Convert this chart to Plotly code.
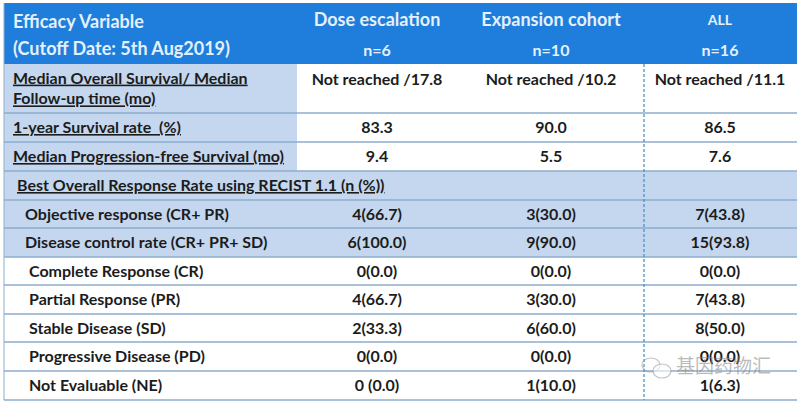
import plotly.graph_objects


# table text, one list per column, top to bottom
row_labels = ["Median Overall Survival/ Median<br>Follow-up time (mo)", "1-year Survival rate  (%)",
	"Median Progression-free Survival (mo)", "Best Overall Response Rate using RECIST 1.1 (n (%))",
	"Objective response (CR+ PR)", "Disease control rate (CR+ PR+ SD)", "Complete Response (CR)",
	"Partial Response (PR)", "Stable Disease (SD)", "Progressive Disease (PD)", "Not Evaluable (NE)"]
dose_values = ["Not reached /17.8", "83.3", "9.4", "", "4(66.7)", "6(100.0)", "0(0.0)", "4(66.7)", "2(33.3)", "0(0.0)", "0 (0.0)"]
expansion_values = ["Not reached /10.2", "90.0", "5.5", "", "3(30.0)", "9(90.0)", "0(0.0)", "3(30.0)", "6(60.0)", "0(0.0)", "1(10.0)"]
all_values = ["Not reached /11.1", "86.5", "7.6", "", "7(43.8)", "15(93.8)", "0(0.0)", "7(43.8)", "8(50.0)", "0(0.0)", "1(6.3)"]
header_labels = ["Dose escalation", "Expansion cohort", "ALL"]
header_counts = ["n=6", "n=10", "n=16"]
watermark = "基因药物汇"

# table geometry, in picture pixels
row_edges = [64, 113, 142, 171, 200, 228, 257, 285, 314, 342, 371, 400]
left, first_col, divider, right = 4, 297, 644, 797
col_centers = [377, 551, 720]
label_x = [13, 13, 13, 17, 25, 25, 29, 29, 29, 29, 29]
underlined = [0, 1, 2, 3]
shaded_full = [3, 4, 5]
# text sits a little low in its cell
text_drop = 1.5

FONT = "Lato"
HEADER_BLUE = "#1f7edb"
LIGHT_BLUE = "#c4d7ef"
LINE_BLUE = "#8dadcc"
DARK = "#1c1c1c"


def rect(x0, x1, y0, y1, color):
	return dict(type="rect", xref="x", yref="y", x0=x0, x1=x1, y0=y0, y1=y1,
			fillcolor=color, line=dict(width=0), layer="below")


def hline(y, color=LINE_BLUE, width=1.5):
	return dict(type="line", xref="x", yref="y", x0=left, x1=right, y0=y, y1=y,
			line=dict(color=color, width=width), layer="below")


shapes = [rect(left, right, 3, row_edges[0], HEADER_BLUE)]
for i in range(len(row_labels)):
	if i in shaded_full:
		shapes.append(rect(left, right, row_edges[i], row_edges[i + 1], LIGHT_BLUE))
	elif i in underlined:
		shapes.append(rect(left, first_col, row_edges[i], row_edges[i + 1], LIGHT_BLUE))
for y in row_edges[1:]:
	shapes.append(hline(y))
shapes.append(dict(type="line", xref="x", yref="y", x0=left, x1=left, y0=3, y1=row_edges[-1],
		line=dict(color=LINE_BLUE, width=1), layer="below"))
shapes.append(dict(type="line", xref="x", yref="y", x0=divider, x1=divider, y0=row_edges[0], y1=row_edges[-1],
		line=dict(color="#3f8fc4", width=1.2, dash="3px,2px"), layer="below"))
# wechat logo of the watermark
shapes.append(dict(type="circle", xref="x", yref="y", x0=642, x1=660, y0=358, y1=372,
		line=dict(color="rgba(150,150,150,0.55)", width=1.2), layer="above"))
shapes.append(dict(type="circle", xref="x", yref="y", x0=653, x1=671, y0=364, y1=378,
		line=dict(color="rgba(150,150,150,0.55)", width=1.2), fillcolor="rgba(255,255,255,0.6)", layer="above"))

fig = plotly.graph_objects.Figure()

# row labels
label_text = []
label_y = []
for i, label in enumerate(row_labels):
	label_text.append("<u>" + label.replace("<br>", "</u><br><u>") + "</u>" if i in underlined else label)
	label_y.append((row_edges[i] + row_edges[i + 1]) / 2 + text_drop)
fig.add_trace(plotly.graph_objects.Scatter(x=label_x, y=label_y, text=label_text, mode="text",
		textposition="middle right", textfont=dict(family=FONT, size=16, color=DARK, weight="bold"),
		hoverinfo="skip", showlegend=False))

# value columns
for center, values in zip(col_centers, [dose_values, expansion_values, all_values]):
	ys = []
	for i in range(len(values)):
		# the first row's values sit on its first text line
		ys.append(row_edges[i] + 15 + text_drop if i == 0 else (row_edges[i] + row_edges[i + 1]) / 2 + text_drop)
	fig.add_trace(plotly.graph_objects.Scatter(x=[center] * len(values), y=ys, text=values, mode="text",
			textposition="middle center", textfont=dict(family=FONT, size=16, color=DARK, weight="bold"),
			hoverinfo="skip", showlegend=False))

# header
fig.add_trace(plotly.graph_objects.Scatter(x=[left + 9, left + 9], y=[23, 50],
		text=["Efficacy Variable", "(Cutoff Date: 5th Aug2019)"], mode="text", textposition="middle right",
		textfont=dict(family=FONT, size=18, color="#e4f0fb", weight="bold"), hoverinfo="skip", showlegend=False))
fig.add_trace(plotly.graph_objects.Scatter(x=col_centers[:2], y=[21, 21], text=header_labels[:2], mode="text",
		textposition="middle center", textfont=dict(family=FONT, size=18, color="#e4f0fb", weight="bold"),
		hoverinfo="skip", showlegend=False))
fig.add_trace(plotly.graph_objects.Scatter(x=[col_centers[2]], y=[21], text=header_labels[2:], mode="text",
		textposition="middle center", textfont=dict(family=FONT, size=14, color="#e4f0fb", weight="bold"),
		hoverinfo="skip", showlegend=False))
fig.add_trace(plotly.graph_objects.Scatter(x=col_centers, y=[52, 52, 52], text=header_counts, mode="text",
		textposition="middle center", textfont=dict(family=FONT, size=16, color="#e4f0fb", weight="bold"),
		hoverinfo="skip", showlegend=False))

# watermark
fig.add_trace(plotly.graph_objects.Scatter(x=[676], y=[368], text=[watermark], mode="text",
		textposition="middle right", textfont=dict(family="Noto Sans CJK SC", size=19, color="rgba(140,140,140,0.6)"),
		hoverinfo="skip", showlegend=False))

fig.update_xaxes(range=[0, 800], visible=False, fixedrange=True)
fig.update_yaxes(range=[403, 0], visible=False, fixedrange=True)
fig.update_layout(width=800, height=403, margin=dict(l=0, r=0, t=0, b=0),
		paper_bgcolor="white", plot_bgcolor="white", shapes=shapes, showlegend=False)

# the page's default body margin would push the table off by 8px
fig.write_html("out.html", config=dict(displayModeBar=False), post_script="document.body.style.margin='0';")
